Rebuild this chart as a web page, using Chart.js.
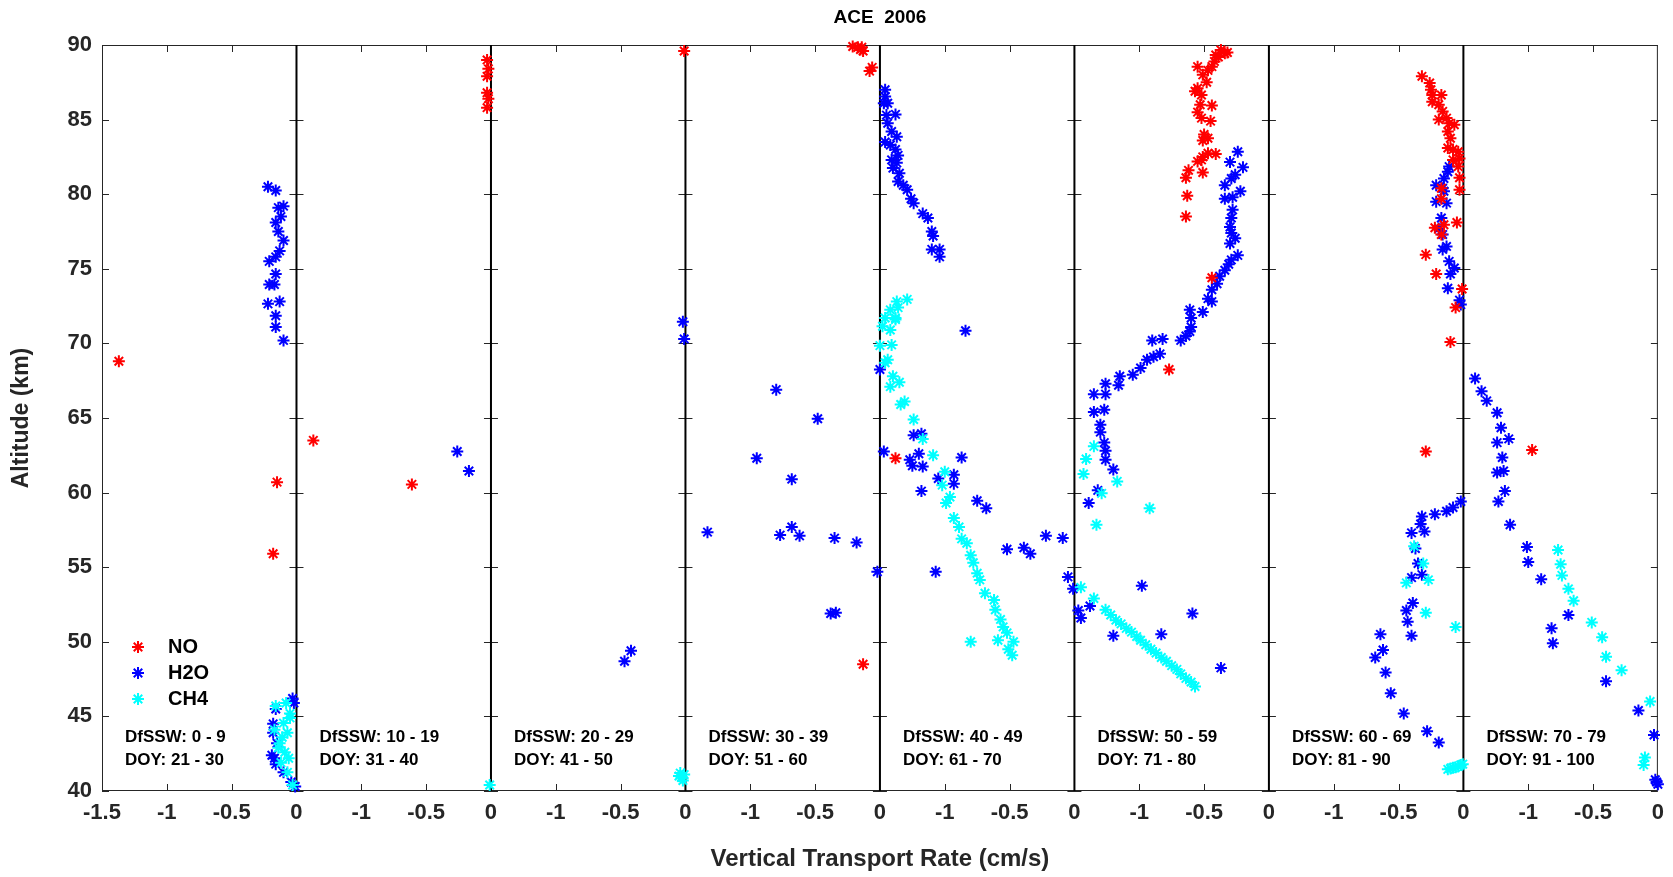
<!DOCTYPE html>
<html>
<head>
<meta charset="utf-8">
<title>ACE 2006</title>
<script src="https://cdn.jsdelivr.net/npm/chart.js@4.4.0/dist/chart.umd.min.js"></script>
<style>
  html, body { margin: 0; padding: 0; background: #fff; }
  #wrap { width: 1673px; height: 877px; }
</style>
</head>
<body>
<div id="wrap"><canvas id="aceChart" width="1673" height="877"></canvas></div>
<script>
// ===== Panel labels =====
const dfsswRanges = ["0 - 9", "10 - 19", "20 - 29", "30 - 39", "40 - 49", "50 - 59", "60 - 69", "70 - 79"];
const doyRanges = ["21 - 30", "31 - 40", "41 - 50", "51 - 60", "61 - 70", "71 - 80", "81 - 90", "91 - 100"];

const speciesNames = ["NO", "H2O", "CH4"];
const speciesColors = ["#ff0000", "#0000ff", "#00ffff"];

// ===== Data: [rate (cm/s), altitude (km)], one list per panel =====
const noPoints = [
  [[-1.37, 68.8], [-0.15, 60.7], [-0.18, 55.9]],
  [[-1.37, 63.5], [-0.61, 60.55], [-0.03, 89.0], [-0.02, 88.4], [-0.03, 87.9], [-0.03, 86.8], [-0.02, 86.4], [-0.03, 85.8]],
  [[-0.01, 89.6]],
  [[-0.21, 89.9], [-0.17, 89.85], [-0.15, 89.7], [-0.13, 89.6], [-0.14, 89.85], [-0.06, 88.5], [-0.08, 88.25], [-0.13, 48.5]],
  [[-1.38, 62.3]],
  [[-0.37, 89.67], [-0.34, 89.44], [-0.32, 89.5], [-0.41, 89.33], [-0.39, 89.2], [-0.42, 88.9], [-0.44, 88.55], [-0.55, 88.55],
   [-0.47, 88.3], [-0.51, 88.0], [-0.48, 87.5], [-0.55, 87.1], [-0.57, 86.9], [-0.52, 86.65], [-0.53, 86.0], [-0.44, 85.95],
   [-0.55, 85.5], [-0.52, 85.1], [-0.45, 84.9], [-0.5, 84.0], [-0.47, 83.75], [-0.51, 83.6], [-0.47, 82.75], [-0.41, 82.7],
   [-0.52, 82.3], [-0.55, 82.2], [-0.51, 82.5], [-0.62, 81.6], [-0.64, 81.1], [-0.51, 81.45], [-0.63, 79.9], [-0.64, 78.5],
   [-0.44, 74.4], [-0.77, 68.25]],
  [[-0.32, 87.9], [-0.26, 87.45], [-0.25, 87.0], [-0.24, 86.65], [-0.17, 86.65], [-0.24, 86.2], [-0.19, 86.0], [-0.16, 85.55],
   [-0.19, 85.0], [-0.13, 85.1], [-0.11, 84.75], [-0.07, 84.65], [-0.12, 84.2], [-0.1, 83.75], [-0.12, 83.1], [-0.08, 83.0],
   [-0.04, 82.85], [-0.03, 82.4], [-0.08, 82.3], [-0.04, 81.85], [-0.03, 81.1], [-0.03, 80.3], [-0.17, 80.4], [-0.17, 79.7],
   [-0.05, 78.1], [-0.22, 77.75], [-0.15, 77.95], [-0.17, 77.3], [-0.29, 75.95], [-0.21, 74.65], [-0.01, 73.65], [-0.06, 72.4],
   [-0.1, 70.1], [-0.29, 62.75]],
  [[-0.97, 62.85]]
];

const h2oPoints = [
  [[-0.22, 80.5], [-0.16, 80.25], [-0.14, 79.1], [-0.1, 79.2], [-0.16, 78.1], [-0.12, 78.5], [-0.14, 77.5], [-0.1, 76.9],
   [-0.13, 76.2], [-0.16, 75.8], [-0.21, 75.5], [-0.16, 74.65], [-0.21, 73.95], [-0.17, 73.95], [-0.22, 72.65], [-0.13, 72.8],
   [-0.16, 71.85], [-0.16, 71.1], [-0.1, 70.2],
   [-0.03, 46.2], [-0.02, 45.9], [-0.16, 45.5], [-0.18, 44.5], [-0.18, 43.9], [-0.15, 43.2], [-0.17, 42.2], [-0.19, 42.4],
   [-0.16, 41.8], [-0.1, 41.25], [-0.04, 40.6], [-0.01, 40.3]],
  [[-0.26, 62.75], [-0.17, 61.45]],
  [[-0.02, 71.45], [-0.01, 70.3], [-0.42, 49.4], [-0.47, 48.7]],
  [[-0.8, 66.9], [-0.48, 64.95], [-0.95, 62.3], [-0.68, 60.9], [-1.33, 57.35], [-0.77, 57.15], [-0.68, 57.7], [-0.62, 57.1],
   [-0.35, 56.95], [-0.18, 56.65], [-0.02, 54.7], [-0.38, 51.9], [-0.34, 51.95]],
  [[-1.46, 87.0], [-1.46, 86.55], [-1.47, 86.1], [-1.44, 86.1], [-1.45, 85.3], [-1.38, 85.35], [-1.44, 84.75], [-1.41, 84.2],
   [-1.37, 83.85], [-1.46, 83.5], [-1.42, 83.3], [-1.38, 83.0], [-1.36, 82.6], [-1.41, 82.3], [-1.37, 82.1], [-1.4, 81.75],
   [-1.35, 81.4], [-1.36, 80.85], [-1.32, 80.6], [-1.29, 80.3], [-1.26, 79.7], [-1.24, 79.4], [-1.17, 78.7], [-1.13, 78.4],
   [-1.1, 77.5], [-1.09, 77.2], [-1.1, 76.3], [-1.04, 76.3], [-1.04, 75.8],
   [-0.84, 70.85], [-1.5, 68.25], [-1.24, 63.85], [-1.18, 63.95], [-1.47, 62.75], [-1.2, 62.6], [-1.27, 62.2], [-1.25, 61.8],
   [-1.17, 61.75], [-0.87, 62.35], [-1.05, 60.95], [-0.93, 61.2], [-0.93, 60.6], [-1.18, 60.1], [-0.75, 59.45], [-0.68, 58.95],
   [-0.22, 57.1], [-0.09, 56.95], [-0.52, 56.2], [-0.39, 56.3], [-0.34, 55.9], [-1.07, 54.7], [-0.05, 54.35], [-0.01, 53.55]],
  [[-0.24, 82.85], [-0.3, 82.15], [-0.2, 81.8], [-0.26, 81.3], [-0.29, 81.05], [-0.34, 80.6], [-0.22, 80.2], [-0.34, 79.7],
   [-0.28, 79.8], [-0.28, 78.95], [-0.29, 78.4], [-0.3, 77.8], [-0.29, 77.4], [-0.26, 77.05], [-0.3, 76.7], [-0.24, 75.9],
   [-0.29, 75.6], [-0.31, 75.3], [-0.34, 74.9], [-0.38, 74.5], [-0.4, 74.0], [-0.44, 73.6], [-0.47, 73.0], [-0.44, 72.8],
   [-0.51, 72.1], [-0.61, 72.25], [-0.6, 71.7], [-0.6, 71.1], [-0.61, 70.8], [-0.64, 70.5], [-0.68, 70.2], [-0.82, 70.3],
   [-0.9, 70.2], [-0.84, 69.3], [-0.89, 69.1], [-0.94, 68.9], [-0.99, 68.35], [-1.05, 67.9], [-1.15, 67.8], [-1.16, 67.2],
   [-1.26, 67.3], [-1.26, 66.6], [-1.35, 66.6], [-1.35, 65.4], [-1.27, 65.55], [-1.3, 64.55], [-1.3, 64.05],
   [-1.27, 63.35], [-1.26, 62.8], [-1.26, 62.2], [-1.2, 61.55], [-1.32, 60.15], [-1.39, 59.3], [-0.98, 53.75], [-1.47, 52.1],
   [-1.45, 51.6], [-1.38, 52.4], [-1.2, 50.4], [-0.83, 50.5], [-0.59, 51.9], [-0.37, 48.25]],
  [[-0.11, 81.85], [-0.12, 81.5], [-0.15, 81.05], [-0.21, 80.6], [-0.16, 80.4], [-0.15, 80.2], [-0.21, 79.5], [-0.13, 79.4],
   [-0.17, 78.4], [-0.19, 77.7], [-0.16, 77.3], [-0.13, 76.5], [-0.16, 76.3], [-0.11, 75.5], [-0.07, 75.05], [-0.1, 74.65],
   [-0.12, 73.7], [-0.03, 72.9], [-0.02, 72.6],
   [-0.02, 59.4], [-0.08, 59.0], [-0.13, 58.75], [-0.22, 58.55], [-0.32, 58.4], [-0.33, 57.9], [-0.3, 57.4], [-0.4, 57.3],
   [-0.37, 56.25], [-0.35, 55.25], [-0.32, 54.5], [-0.4, 54.3], [-0.39, 52.6], [-0.44, 52.1], [-0.43, 51.35], [-0.4, 50.4],
   [-0.64, 50.5], [-0.62, 49.45], [-0.68, 48.95], [-0.6, 47.95], [-0.56, 46.55], [-0.46, 45.2], [-0.28, 44.0], [-0.19, 43.25]],
  [[-1.41, 67.65], [-1.36, 66.8], [-1.32, 66.15], [-1.24, 65.35], [-1.21, 64.35], [-1.24, 63.35], [-1.15, 63.6], [-1.2, 62.35],
   [-1.24, 61.35], [-1.19, 61.45], [-1.18, 60.1], [-1.23, 59.4], [-1.14, 57.85], [-1.01, 56.35], [-1.0, 55.35], [-0.9, 54.2],
   [-0.69, 51.8], [-0.82, 50.9], [-0.81, 49.9], [-0.4, 47.35], [-0.15, 45.4], [-0.03, 43.75], [-0.02, 40.75], [0, 40.45],
   [-0.01, 40.6]]
];

const ch4Points = [
  [[-0.16, 45.7], [-0.08, 45.9], [-0.05, 45.2], [-0.1, 44.55], [-0.17, 44.1], [-0.07, 43.9], [-0.13, 43.2], [-0.09, 42.6],
   [-0.12, 41.9], [-0.07, 41.25], [-0.03, 40.4], [-0.11, 43.6], [-0.05, 44.9], [-0.14, 42.9], [-0.06, 42.2]],
  [[-0.01, 40.4]],
  [[-0.04, 41.2], [-0.03, 40.9], [-0.02, 40.7], [-0.05, 41.0], [-0.01, 41.1]],
  [],
  [[-1.29, 72.95], [-1.37, 72.8], [-1.42, 72.25], [-1.36, 72.4], [-1.46, 71.7], [-1.38, 71.7], [-1.48, 71.15], [-1.42, 70.9],
   [-1.38, 71.6], [-1.5, 69.85], [-1.41, 69.9], [-1.44, 68.9], [-1.46, 68.7], [-1.4, 67.8], [-1.35, 67.4], [-1.42, 67.1],
   [-1.34, 65.9], [-1.31, 66.1], [-1.24, 64.9], [-1.17, 63.6], [-1.09, 62.5], [-1.0, 61.4], [-1.02, 60.5], [-0.96, 59.7],
   [-0.99, 59.3], [-0.93, 58.3], [-0.89, 57.7], [-0.87, 56.9], [-0.83, 56.6], [-0.8, 55.8], [-0.78, 55.3], [-0.75, 54.6],
   [-0.73, 54.15], [-0.69, 53.25], [-0.62, 52.8], [-0.61, 52.15], [-0.57, 51.5], [-0.55, 51.0], [-0.52, 50.6], [-0.47, 50.0],
   [-0.59, 50.1], [-0.51, 49.5], [-0.48, 49.1], [-0.8, 50.0]],
  [[-1.35, 63.1], [-1.41, 62.25], [-1.43, 61.25], [-1.17, 60.75], [-1.29, 59.95], [-0.92, 58.95], [-1.33, 57.85], [-1.45, 53.65],
   [-1.35, 52.9], [-1.26, 52.15], [-1.22, 51.8], [-1.18, 51.45], [-1.14, 51.2], [-1.1, 50.9], [-1.06, 50.65], [-1.02, 50.35],
   [-0.99, 50.1], [-0.95, 49.8], [-0.91, 49.5], [-0.87, 49.25], [-0.83, 48.95], [-0.79, 48.7], [-0.75, 48.4], [-0.71, 48.15],
   [-0.68, 47.85], [-0.64, 47.55], [-0.6, 47.3], [-0.57, 47.0]],
  [[-0.38, 56.4], [-0.31, 55.25], [-0.44, 53.95], [-0.27, 54.15], [-0.29, 51.95], [-0.06, 51.0], [-0.12, 41.45], [-0.1, 41.5],
   [-0.08, 41.55], [-0.06, 41.6], [-0.04, 41.65], [-0.02, 41.75], [-0.005, 41.8]],
  [[-0.77, 56.15], [-0.75, 55.2], [-0.74, 54.45], [-0.69, 53.55], [-0.65, 52.75], [-0.51, 51.3], [-0.43, 50.3], [-0.4, 49.0],
   [-0.28, 48.1], [-0.06, 46.0], [-0.1, 42.25], [-0.11, 41.75]]
];

// ===== Layout constants =====
const panelSpan = 1.5;            // every panel runs from -1.5 to 0 cm/s
const panelCount = dfsswRanges.length;
const FONT = "'Liberation Sans', Arial, Helvetica, sans-serif";
const AXIS_COLOR = "#262626";
const STAR_RADIUS = 6;

// panel p, local rate r -> position on the shared x axis
function toChartPoints(panels) {
  const out = [];
  panels.forEach((pts, p) => {
    pts.forEach(([rate, alt]) => out.push({ x: (p + 1) * panelSpan + rate, y: alt }));
  });
  return out;
}

function xTickLabel(v) {
  if (v === 0) return "-1.5";
  const r = Math.round((v % panelSpan) * 100) / 100;
  if (r === 0 || r === panelSpan) return "0";
  return String(Math.round((r - panelSpan) * 10) / 10);
}

function isBoundary(v) {
  return Math.abs(v / panelSpan - Math.round(v / panelSpan)) < 1e-6;
}

function drawStar(ctx, cx, cy, r, color) {
  const d = r * Math.SQRT1_2;
  ctx.strokeStyle = color;
  ctx.lineWidth = 2;
  ctx.beginPath();
  ctx.moveTo(cx - r, cy); ctx.lineTo(cx + r, cy);
  ctx.moveTo(cx, cy - r); ctx.lineTo(cx, cy + r);
  ctx.moveTo(cx - d, cy - d); ctx.lineTo(cx + d, cy + d);
  ctx.moveTo(cx - d, cy + d); ctx.lineTo(cx + d, cy - d);
  ctx.stroke();
}

// ===== Plugin: MATLAB-like frame, zero lines, legend and panel notes =====
const panelFrame = {
  id: "panelFrame",
  beforeDatasetsDraw(chart) {
    const { ctx, chartArea: a, scales: { x, y } } = chart;
    const tickLen = 7;
    ctx.save();
    ctx.strokeStyle = AXIS_COLOR;
    ctx.lineWidth = 1;
    ctx.strokeRect(a.left + 0.5, a.top + 0.5, a.right - a.left - 1, a.bottom - a.top - 1);

    ctx.beginPath();
    x.ticks.forEach(t => {
      if (isBoundary(t.value)) return;
      const px = Math.round(x.getPixelForValue(t.value)) + 0.5;
      ctx.moveTo(px, a.bottom); ctx.lineTo(px, a.bottom - tickLen);
      ctx.moveTo(px, a.top); ctx.lineTo(px, a.top + tickLen);
    });
    for (let p = 0; p <= panelCount; p++) {
      const px = x.getPixelForValue(p * panelSpan);
      y.ticks.forEach(t => {
        const py = Math.round(y.getPixelForValue(t.value)) + 0.5;
        ctx.moveTo(p === 0 ? px : px - tickLen, py);
        ctx.lineTo(p === panelCount ? px : px + tickLen, py);
      });
    }
    ctx.stroke();

    // zero line of every panel
    ctx.strokeStyle = "#000";
    ctx.lineWidth = 2;
    ctx.beginPath();
    for (let p = 1; p < panelCount; p++) {
      const px = x.getPixelForValue(p * panelSpan);
      ctx.moveTo(px, a.top); ctx.lineTo(px, a.bottom);
    }
    ctx.stroke();
    ctx.restore();
  },
  afterDatasetsDraw(chart) {
    const { ctx, chartArea: a, scales: { x } } = chart;
    ctx.save();

    // legend inside first panel
    ctx.font = "bold 20px " + FONT;
    ctx.textAlign = "left";
    ctx.textBaseline = "middle";
    chart.data.datasets.forEach((ds, i) => {
      const rowY = a.bottom - 144 + i * 26;
      drawStar(ctx, a.left + 36, rowY, STAR_RADIUS, ds.borderColor);
      ctx.fillStyle = "#000";
      ctx.fillText(ds.label, a.left + 66, rowY);
    });

    // DfSSW / DOY notes
    ctx.font = "bold 17px " + FONT;
    ctx.fillStyle = "#000";
    for (let p = 0; p < panelCount; p++) {
      const px = x.getPixelForValue(p * panelSpan) + 23;
      ctx.fillText("DfSSW: " + dfsswRanges[p], px, a.bottom - 54);
      ctx.fillText("DOY: " + doyRanges[p], px, a.bottom - 31);
    }
    ctx.restore();
  }
};

// ===== Chart =====
const ctx = document.getElementById("aceChart").getContext("2d");
const allPoints = [noPoints, h2oPoints, ch4Points];
const drawOrder = [0, 2, 1];   // NO on top, H2O at the back

new Chart(ctx, {
  type: "scatter",
  data: {
    datasets: speciesNames.map((name, i) => ({
      label: name,
      data: toChartPoints(allPoints[i]),
      pointStyle: "star",
      pointRadius: STAR_RADIUS,
      pointHoverRadius: STAR_RADIUS,
      borderWidth: 2,
      borderColor: speciesColors[i],
      backgroundColor: speciesColors[i],
      showLine: false,
      clip: false,
      order: drawOrder[i]
    }))
  },
  options: {
    responsive: false,
    devicePixelRatio: 1,
    animation: false,
    layout: { padding: { left: 0, right: 14, top: 0, bottom: 0 } },
    plugins: {
      legend: { display: false },
      tooltip: { enabled: false },
      title: {
        display: true,
        text: "ACE  2006",
        fullSize: false,
        color: "#000",
        font: { family: FONT, size: 19, weight: "bold" },
        padding: { top: 6, bottom: 16.2 }
      }
    },
    scales: {
      x: {
        type: "linear",
        min: 0,
        max: panelSpan * panelCount,
        afterFit: s => { s.height = 86; },
        grid: { display: false, drawTicks: false },
        border: { display: false },
        ticks: {
          stepSize: 0.5,
          autoSkip: false,
          maxRotation: 0,
          padding: 9,
          color: AXIS_COLOR,
          font: { family: FONT, size: 22, weight: "bold" },
          callback: v => xTickLabel(v)
        },
        title: {
          display: true,
          text: "Vertical Transport Rate (cm/s)",
          color: AXIS_COLOR,
          font: { family: FONT, size: 24, weight: "bold" },
          padding: { top: 0, bottom: 3 }
        }
      },
      y: {
        min: 40,
        max: 90,
        afterFit: s => { s.width = 102; },
        grid: { display: false, drawTicks: false },
        border: { display: false },
        ticks: {
          stepSize: 5,
          padding: 10,
          color: AXIS_COLOR,
          font: { family: FONT, size: 22, weight: "bold" }
        },
        title: {
          display: true,
          text: "Altitude (km)",
          color: AXIS_COLOR,
          font: { family: FONT, size: 23, weight: "bold" },
          padding: { top: 8, bottom: 0 }
        }
      }
    }
  },
  plugins: [panelFrame]
});
</script>
</body>
</html>
